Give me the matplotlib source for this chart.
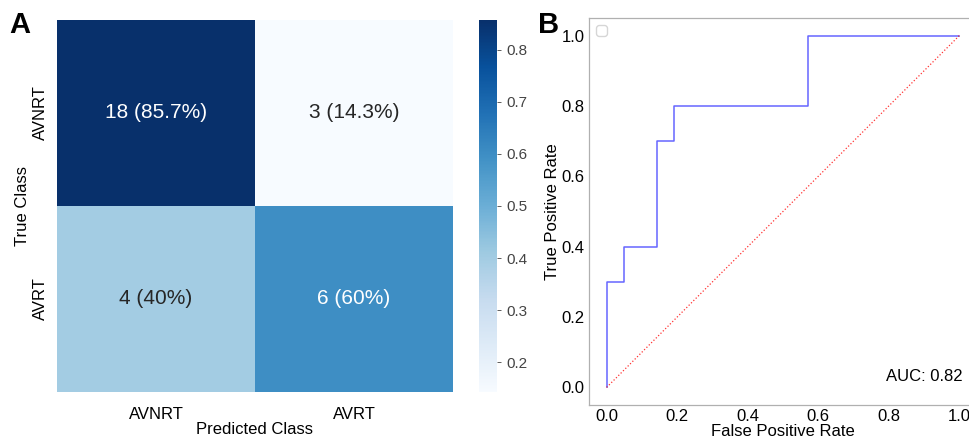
import numpy as np
import matplotlib.pyplot as plt
import seaborn as sns

classes = ['AVNRT', 'AVRT']
counts = np.array([[18, 3], [4, 6]])

# ROC curve points
fpr = [0.0, 0.0, 0.048, 0.048, 0.143, 0.143, 0.190, 0.190, 0.571, 0.571, 1.0]
tpr = [0.0, 0.3, 0.3, 0.4, 0.4, 0.7, 0.7, 0.8, 0.8, 1.0, 1.0]
auc_value = 0.82

plt.rcParams['font.family'] = ['Liberation Sans', 'DejaVu Sans']

rates = counts / counts.sum(axis=1, keepdims=True)
labels = np.array([[f"{c} ({r * 100:.3g}%)" for c, r in zip(row_c, row_r)]
                   for row_c, row_r in zip(counts, rates)])

fig = plt.figure(figsize=(9.69, 4.4), dpi=100)

# --- A: confusion matrix ---
ax1 = fig.add_axes([0.0588, 0.1091, 0.4087, 0.8455])
cax = fig.add_axes([0.4943, 0.1091, 0.0186, 0.8455])
sns.heatmap(rates, annot=labels, fmt='', cmap='Blues', ax=ax1, cbar_ax=cax,
            annot_kws={'fontsize': 15}, xticklabels=classes, yticklabels=classes)
ax1.tick_params(axis='x', length=0, labelsize=12, pad=10.5)
ax1.tick_params(axis='y', length=0, labelsize=12, pad=6.5)
ax1.set_yticklabels(classes, rotation=90, va='center')
ax1.set_xlabel('Predicted Class', fontsize=12, labelpad=0)
ax1.set_ylabel('True Class', fontsize=12, labelpad=2)
cax.tick_params(labelsize=11, colors='#444444', length=3, width=0.6)
for lbl in cax.get_yticklabels():
    lbl.set_color('#444444')
fig.text(0.010, 0.925, 'A', fontsize=21, fontweight='bold')

# --- B: ROC curve ---
ax2 = fig.add_axes([0.6078, 0.0795, 0.4004, 0.8795])
ax2.plot(fpr, tpr, color='blue', alpha=0.6, linewidth=1.1)
ax2.plot([0, 1], [0, 1], color='red', linestyle=':', linewidth=0.9, alpha=0.8)
ax2.set_xlim(-0.05, 1.05)
ax2.set_ylim(-0.05, 1.05)
ax2.set_xticks(np.arange(0, 1.01, 0.2))
ax2.set_yticks(np.arange(0, 1.01, 0.2))
ax2.tick_params(axis='both', length=0, labelsize=12, pad=3)
ax2.set_xlabel('False Positive Rate', fontsize=12, labelpad=0)
ax2.set_ylabel('True Positive Rate', fontsize=12, labelpad=1)
for s in ax2.spines.values():
    s.set_color('#b0b0b0')
    s.set_linewidth(0.9)
ax2.legend(handles=[], loc='upper left', frameon=True)
ax2.text(0.90, 0.03, f'AUC: {auc_value:.2f}', fontsize=12, ha='center', va='center')
fig.text(0.555, 0.925, 'B', fontsize=21, fontweight='bold')

plt.savefig('out.png', dpi=100)
